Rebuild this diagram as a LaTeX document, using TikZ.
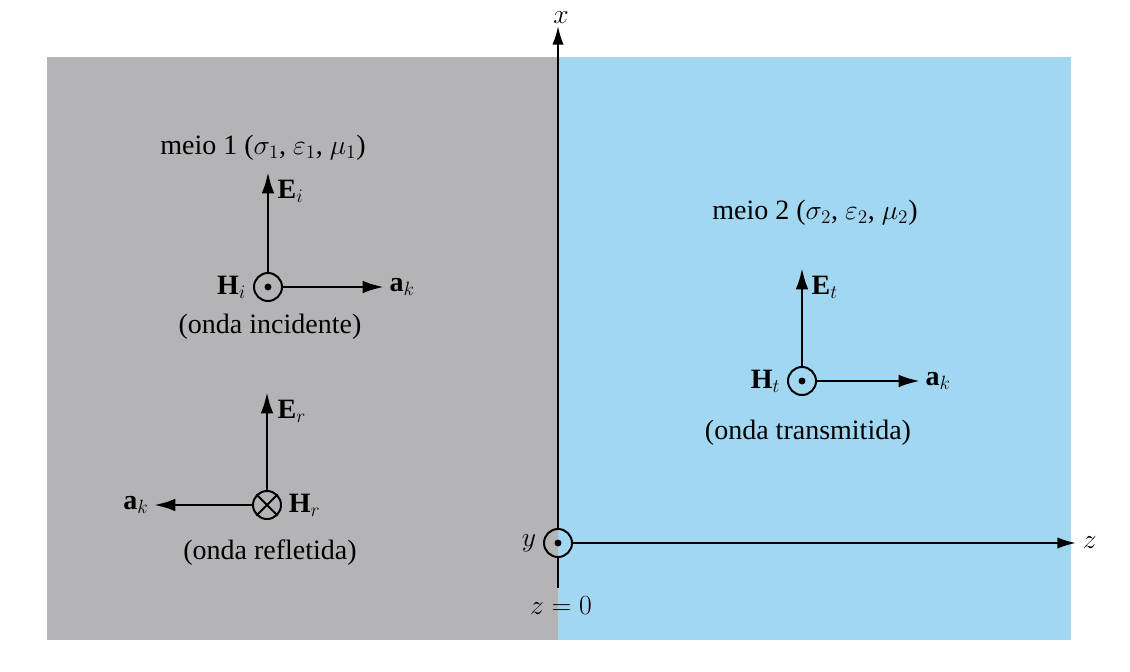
\documentclass[tikz,border=0pt]{standalone}
\usepackage{fontspec}
\setmainfont{Liberation Serif}
\usepackage{tikz}
\usetikzlibrary{arrows.meta,positioning}

\definecolor{meioum}{RGB}{180,180,182}
\definecolor{meiodois}{RGB}{162,215,242}

\tikzset{
  vec/.style={line width=2.1pt,-{Latex[length=16pt,width=9.5pt]}},
  axis/.style={line width=1.6pt,-{Latex[length=14pt,width=8.5pt]}},
  campo/.style={circle,draw,line width=1.5pt,minimum size=21pt,inner sep=0pt},
  lbl/.style={font=\fontsize{21}{25}\selectfont,inner sep=1pt}
}

\begin{document}
\begin{tikzpicture}[x=0.75pt,y=-0.75pt]
  \useasboundingbox (0,0) rectangle (1130,671);
  \fill[white] (0,0) rectangle (1130,671);

  % ---- the two media ------------------------------
  \fill[meioum]   (47,57)  rectangle (558,640);
  \fill[meiodois] (558,57) rectangle (1071,640);

  % ---- axes ---------------------------------------
  \node[campo] (org) at (558,543) {};
  \fill (org) circle (2.6pt);
  \coordinate (xtip) at (558,26);
  \coordinate (xbot) at (558,588);
  \coordinate (ztip) at (1076,543);
  \draw[axis] (org.north) -- (xtip);
  \draw[line width=1.6pt] (org.south) -- (xbot);
  \draw[axis] (org.east) -- (ztip);
  \node[lbl,anchor=base] (xl) at (561,23) {$x$};
  \node[lbl,right=4pt of ztip] (zl) {$z$};
  \node[lbl,left=4pt of org] (yl) {$y$};
  \node[lbl] (z0) at (561,606) {$z=0$};

  % ---- medium 1 : incident wave -------------------
  \node[lbl] (m1) at (263,148) {meio 1 ($\sigma_1$, $\varepsilon_1$, $\mu_1$)};
  \node[campo] (hi) at (268,287) {};
  \fill (hi) circle (2.6pt);
  \coordinate (ei) at (268,172);
  \coordinate (aki) at (384,287);
  \draw[vec] (hi.north) -- (ei);
  \draw[vec] (hi.east) -- (aki);
  \node[lbl,anchor=south west] (eil) at (276,204) {$\mathbf{E}_i$};
  \node[lbl,right=3pt of aki] (akil) {$\mathbf{a}_k$};
  \node[lbl,left=4pt of hi] (hil) {$\mathbf{H}_i$};
  \node[lbl] (inc) at (270,327) {(onda incidente)};

  % ---- medium 1 : reflected wave ------------------
  \node[campo] (hr) at (267,505) {};
  \draw[line width=1.5pt] (hr.north east) -- (hr.south west)
                          (hr.north west) -- (hr.south east);
  \coordinate (er) at (267,392);
  \coordinate (akr) at (154,505);
  \draw[vec] (hr.north) -- (er);
  \draw[vec] (hr.west) -- (akr);
  \node[lbl,anchor=south west] (erl) at (276,424) {$\mathbf{E}_r$};
  \node[lbl,left=3pt of akr] (akrl) {$\mathbf{a}_k$};
  \node[lbl,right=4pt of hr] (hrl) {$\mathbf{H}_r$};
  \node[lbl] (ref) at (270,553) {(onda refletida)};

  % ---- medium 2 : transmitted wave ----------------
  \node[lbl] (m2) at (815,213) {meio 2 ($\sigma_2$, $\varepsilon_2$, $\mu_2$)};
  \node[campo] (ht) at (802,381) {};
  \fill (ht) circle (2.6pt);
  \coordinate (et) at (802,268);
  \coordinate (akt) at (920,381);
  \draw[vec] (ht.north) -- (et);
  \draw[vec] (ht.east) -- (akt);
  \node[lbl,anchor=south west] (etl) at (810,300) {$\mathbf{E}_t$};
  \node[lbl,right=3pt of akt] (aktl) {$\mathbf{a}_k$};
  \node[lbl,left=4pt of ht] (htl) {$\mathbf{H}_t$};
  \node[lbl] (tra) at (808,433) {(onda transmitida)};
\end{tikzpicture}
\end{document}
